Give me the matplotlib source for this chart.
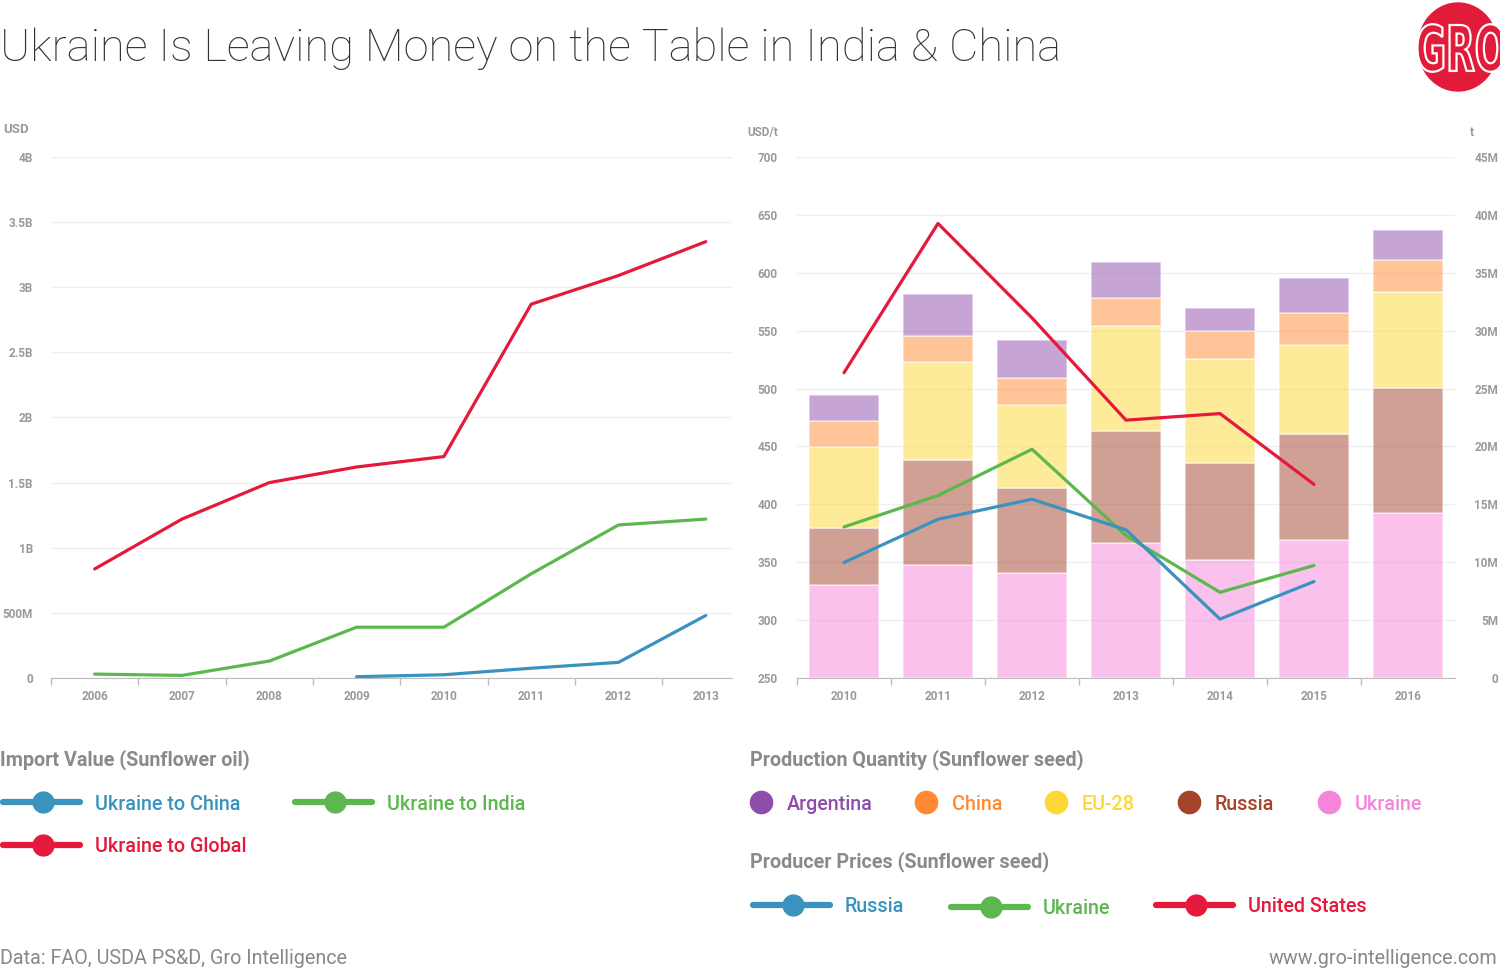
import matplotlib
matplotlib.use('Agg')
import matplotlib.pyplot as plt
from matplotlib.patches import Ellipse, PathPatch
from matplotlib.textpath import TextPath
from matplotlib.font_manager import FontProperties
from matplotlib.transforms import Affine2D
import numpy as np

plt.rcParams['font.family'] = ['Roboto', 'DejaVu Sans']

W, H = 1500, 969

# left chart: import value of sunflower oil (USD)
years_l = ['2006', '2007', '2008', '2009', '2010', '2011', '2012', '2013']
to_global = [0.837e9, 1.22e9, 1.50e9, 1.62e9, 1.70e9, 2.87e9, 3.09e9, 3.35e9]
to_india = [0.03e9, 0.02e9, 0.13e9, 0.39e9, 0.39e9, 0.80e9, 1.175e9, 1.22e9]
to_china = [np.nan, np.nan, np.nan, 0.01e9, 0.025e9, 0.075e9, 0.12e9, 0.48e9]
ticks_l = [0, 0.5e9, 1e9, 1.5e9, 2e9, 2.5e9, 3e9, 3.5e9, 4e9]
ticklabels_l = ['0', '500M', '1B', '1.5B', '2B', '2.5B', '3B', '3.5B', '4B']

# right chart: production (t) and producer prices (USD/t)
years_r = ['2010', '2011', '2012', '2013', '2014', '2015', '2016']
prod_ukraine = [8.06e6, 9.78e6, 9.05e6, 11.63e6, 10.21e6, 11.96e6, 14.24e6]
prod_russia = [4.93e6, 9.02e6, 7.34e6, 9.72e6, 8.39e6, 9.09e6, 10.81e6]
prod_eu = [7.00e6, 8.53e6, 7.17e6, 9.09e6, 8.93e6, 7.67e6, 8.29e6]
prod_china = [2.21e6, 2.21e6, 2.35e6, 2.41e6, 2.44e6, 2.77e6, 2.78e6]
prod_argentina = [2.22e6, 3.61e6, 3.27e6, 3.05e6, 1.99e6, 3.08e6, 2.61e6]
price_russia = [349.8, 387.1, 404.4, 378.0, 300.9, 333.3, np.nan]
price_ukraine = [380.5, 407.6, 447.6, 373.0, 324.0, 347.2, np.nan]
price_us = [513.7, 642.6, 561.0, 472.7, 478.4, 417.2, np.nan]
ticks_price = [250, 300, 350, 400, 450, 500, 550, 600, 650, 700]
ticks_prod = [0, 5e6, 10e6, 15e6, 20e6, 25e6, 30e6, 35e6, 40e6, 45e6]
ticklabels_prod = ['0', '5M', '10M', '15M', '20M', '25M', '30M', '35M', '40M', '45M']

BLUE = '#3A93BF'
GREEN = '#5CB84E'
RED = '#E5193B'
C_ARG = '#8E4DAA'
C_CHN = '#FF8A33'
C_EU = '#FDD835'
C_RUS = '#A5432B'
C_UKR = '#F585D9'
TICK = '#9A9A9A'
GRID = '#EEEEEE'
AXIS = '#BBBBBB'
TS = 8.5

fig = plt.figure(figsize=(W / 100, H / 100), dpi=100)


def rect(x0, y0, x1, y1):
    return [x0 / W, 1 - y1 / H, (x1 - x0) / W, (y1 - y0) / H]


def style_x(ax, n, right):
    ax.set_xlim(-0.5, right)
    ax.set_xticks(range(n))
    ax.set_xticklabels(years_l if n == 8 else years_r)
    ax.set_xticks(np.arange(n) - 0.5, minor=True)
    ax.tick_params(axis='x', which='major', length=0, pad=9,
                   labelsize=TS, labelcolor=TICK)
    ax.tick_params(axis='x', which='minor', length=5, color=AXIS, width=1)
    for lbl in ax.get_xticklabels():
        lbl.set_fontweight('bold')
    for s in ['top', 'right', 'left']:
        ax.spines[s].set_visible(False)
    ax.spines['bottom'].set_color(AXIS)


# ---- left chart
axl = fig.add_axes(rect(51, 157, 732, 678))
x_l = np.arange(len(years_l))
axl.plot(x_l, to_global, color=RED, lw=2.3, solid_capstyle='round')
axl.plot(x_l, to_india, color=GREEN, lw=2.3, solid_capstyle='round')
axl.plot(x_l, to_china, color=BLUE, lw=2.3, solid_capstyle='round')
axl.set_ylim(0, 4e9)
axl.set_yticks(ticks_l)
axl.set_yticklabels(ticklabels_l)
axl.tick_params(axis='y', length=0, pad=13, labelsize=TS, labelcolor=TICK)
for lbl in axl.get_yticklabels():
    lbl.set_fontweight('bold')
axl.yaxis.grid(True, color=GRID, lw=1)
axl.set_axisbelow(True)
style_x(axl, 8, 7.3)

# ---- right chart: bars (right axis) + prices (left axis)
axb = fig.add_axes(rect(797, 157, 1455, 678))
x_r = np.arange(len(years_r))
bottom = np.zeros(len(years_r))
for vals, col in [(prod_ukraine, C_UKR), (prod_russia, C_RUS), (prod_eu, C_EU),
                  (prod_china, C_CHN), (prod_argentina, C_ARG)]:
    axb.bar(x_r, vals, 0.75, bottom=bottom, color=col, alpha=0.5,
            edgecolor='white', linewidth=1.2)
    bottom += np.array(vals)
axb.set_ylim(0, 45e6)
axb.yaxis.grid(True, color=GRID, lw=1)
axb.set_axisbelow(True)
style_x(axb, 7, 6.5)

axp = axb.twinx()
axp.plot(x_r, price_us, color=RED, lw=2.3, solid_capstyle='round')
axp.plot(x_r, price_ukraine, color=GREEN, lw=2.3, solid_capstyle='round')
axp.plot(x_r, price_russia, color=BLUE, lw=2.3, solid_capstyle='round')
axp.set_ylim(250, 700)
axp.set_yticks(ticks_price)
axp.yaxis.tick_left()
axp.tick_params(axis='y', length=0, pad=14, labelsize=TS, labelcolor=TICK)
for lbl in axp.get_yticklabels():
    lbl.set_fontweight('bold')
for s in axp.spines.values():
    s.set_visible(False)

# production ticks on the right side (after twinx, which moves them left)
axb.set_yticks(ticks_prod)
axb.set_yticklabels(ticklabels_prod)
axb.yaxis.tick_right()
axb.tick_params(axis='y', length=0, pad=31, labelsize=TS, labelcolor=TICK,
                labelleft=False, labelright=True)
for t in axb.yaxis.get_major_ticks():
    t.label2.set_ha('right')
    t.label2.set_fontweight('bold')

# ---- overlay for titles, legends, footer
ov = fig.add_axes([0, 0, 1, 1])
ov.set_xlim(0, W)
ov.set_ylim(H, 0)
ov.axis('off')
ov.patch.set_alpha(0)

ov.text(0, 48, 'Ukraine Is Leaving Money on the Table in India & China',
        fontsize=32.6, fontweight='light', color='#333333', va='center', ha='left')

ov.text(3, 129, 'USD', fontsize=9.5, fontweight='bold', color=TICK, va='center')
ov.text(747, 132, 'USD/t', fontsize=8.5, fontweight='bold', color=TICK, va='center')
ov.text(1470, 132, 't', fontsize=8.5, fontweight='bold', color=TICK, va='center')

# logo: red disc with squeezed letters
ov.add_patch(Ellipse((1458, 47), 80, 88, color='#E31B3A', zorder=2))
tp = TextPath((0, 0), 'GRO', size=60, prop=FontProperties(family='DejaVu Sans', weight='bold'))
bb = tp.get_extents()
tr = Affine2D().translate(-(bb.x0 + bb.x1) / 2, -(bb.y0 + bb.y1) / 2).scale(0.62, -1.05).translate(1461, 48)
logo = PathPatch(tr.transform_path(tp), facecolor='#E31B3A', edgecolor='white', lw=1.6, zorder=3)
ov.add_patch(logo)

HEAD = '#8A8A8A'
LS = 14.2


def line_key(x0, y, col, label):
    ov.plot([x0, x0 + 77], [y, y], color=col, lw=4.5, solid_capstyle='round')
    ov.plot([x0 + 40], [y], 'o', color=col, ms=15)
    ov.text(x0 + 92, y + 2, label, color=col, fontsize=LS, fontweight='medium',
            va='center', ha='left')


def dot_key(x0, y, col, label):
    ov.plot([x0], [y], 'o', color=col, ms=16)
    ov.text(x0 + 26, y + 2, label, color=col, fontsize=LS, fontweight='medium',
            va='center', ha='left')


ov.text(0, 760, 'Import Value (Sunflower oil)', color=HEAD, fontsize=LS,
        fontweight='bold', va='center')
line_key(3, 802, BLUE, 'Ukraine to China')
line_key(295, 802, GREEN, 'Ukraine to India')
line_key(3, 845, RED, 'Ukraine to Global')

ov.text(750, 760, 'Production Quantity (Sunflower seed)', color=HEAD, fontsize=LS,
        fontweight='bold', va='center')
dot_key(761, 802, C_ARG, 'Argentina')
dot_key(926, 802, C_CHN, 'China')
dot_key(1056, 802, C_EU, 'EU-28')
dot_key(1189, 802, C_RUS, 'Russia')
dot_key(1329, 802, C_UKR, 'Ukraine')

ov.text(750, 862, 'Producer Prices (Sunflower seed)', color=HEAD, fontsize=LS,
        fontweight='bold', va='center')
line_key(753, 905, BLUE, 'Russia')
line_key(951, 907, GREEN, 'Ukraine')
line_key(1156, 905, RED, 'United States')

ov.text(0, 958, 'Data: FAO, USDA PS&D, Gro Intelligence', color='#888888',
        fontsize=LS, va='center', ha='left')
ov.text(1497, 958, 'www.gro-intelligence.com', color='#888888',
        fontsize=LS, va='center', ha='right')

fig.savefig('out.png', dpi=100)
